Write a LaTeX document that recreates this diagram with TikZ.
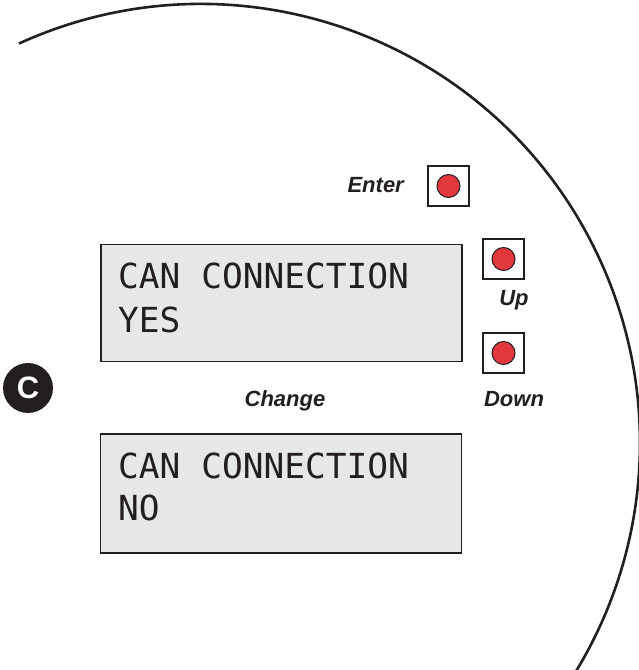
\documentclass[tikz,border=0pt]{standalone}
\usepackage{fontspec}
\usepackage{tikz}
\usetikzlibrary{positioning}
\newfontfamily\lcdfont{DejaVu Sans Mono}
\newfontfamily\lblfont{Liberation Sans}
\definecolor{inkdark}{RGB}{35,31,32}
\definecolor{lcdgray}{RGB}{230,231,233}
\definecolor{btnred}{RGB}{227,55,62}

\tikzset{
	lcd/.style={draw=inkdark, line width=1.8pt, fill=lcdgray, minimum width=361pt, minimum height=117pt, inner sep=0pt},
	lcdtext/.style={anchor=base west, inner sep=0pt, text=inkdark, font=\lcdfont\fontsize{34.5}{40}\selectfont},
	btnbox/.style={draw=inkdark, line width=1.2pt, fill=white, minimum width=41pt, minimum height=40pt, inner sep=0pt},
	btn/.style={circle, draw=inkdark, line width=1pt, fill=btnred, minimum size=23pt, inner sep=0pt},
	lbl/.style={inner sep=0pt, text=inkdark, font=\lblfont\bfseries\itshape\fontsize{22}{24}\selectfont}
}

\begin{document}
\begin{tikzpicture}[x=1pt, y=1pt]
	\useasboundingbox (0,0) rectangle (639,670);
	\clip (0,0) rectangle (639,670);
	
	% housing outline
	\def\rr{439}
	\coordinate (ctr) at (201,227);
	\draw[inkdark, line width=2.6pt] (ctr) ++(114.5:\rr) arc[start angle=114.5, end angle=-40, radius=\rr];
	
	% displays
	\node[lcd] (lcdA) at (281.5,367) {};
	\node[lcd, minimum height=119pt] (lcdB) at (281,176.5) {};
	
	\node[lcdtext] (yesA) at (118,381) {CAN CONNECTION};
	\node[lcdtext] (yesB) at (118,337) {YES};
	\node[lcdtext] (noA) at (118,191) {CAN CONNECTION};
	\node[lcdtext] (noB) at (118,149) {NO};
	
	% keys
	\node[btnbox] (enterbox) at (448.5,484) {};
	\node[btn] (enter) at (enterbox) {};
	\node[btnbox] (upbox) at (503.5,411) {};
	\node[btn] (up) at (upbox) {};
	\node[btnbox] (downbox) at (503.5,317) {};
	\node[btn] (down) at (downbox) {};
	
	\node[lbl, anchor=base east] (enterlbl) at (404,477) {Enter};
	\node[lbl, anchor=base] (uplbl) at (514,364) {Up};
	\node[lbl, anchor=base] (downlbl) at (514,263) {Down};
	\node[lbl, anchor=base] (changelbl) at (285,263) {Change};
	
	% step marker
	\node[circle, fill=inkdark, minimum size=50pt, inner sep=0pt, text=white,
		font=\lblfont\bfseries\fontsize{31}{34}\selectfont] (stepC) at (28,282) {C};
\end{tikzpicture}
\end{document}
